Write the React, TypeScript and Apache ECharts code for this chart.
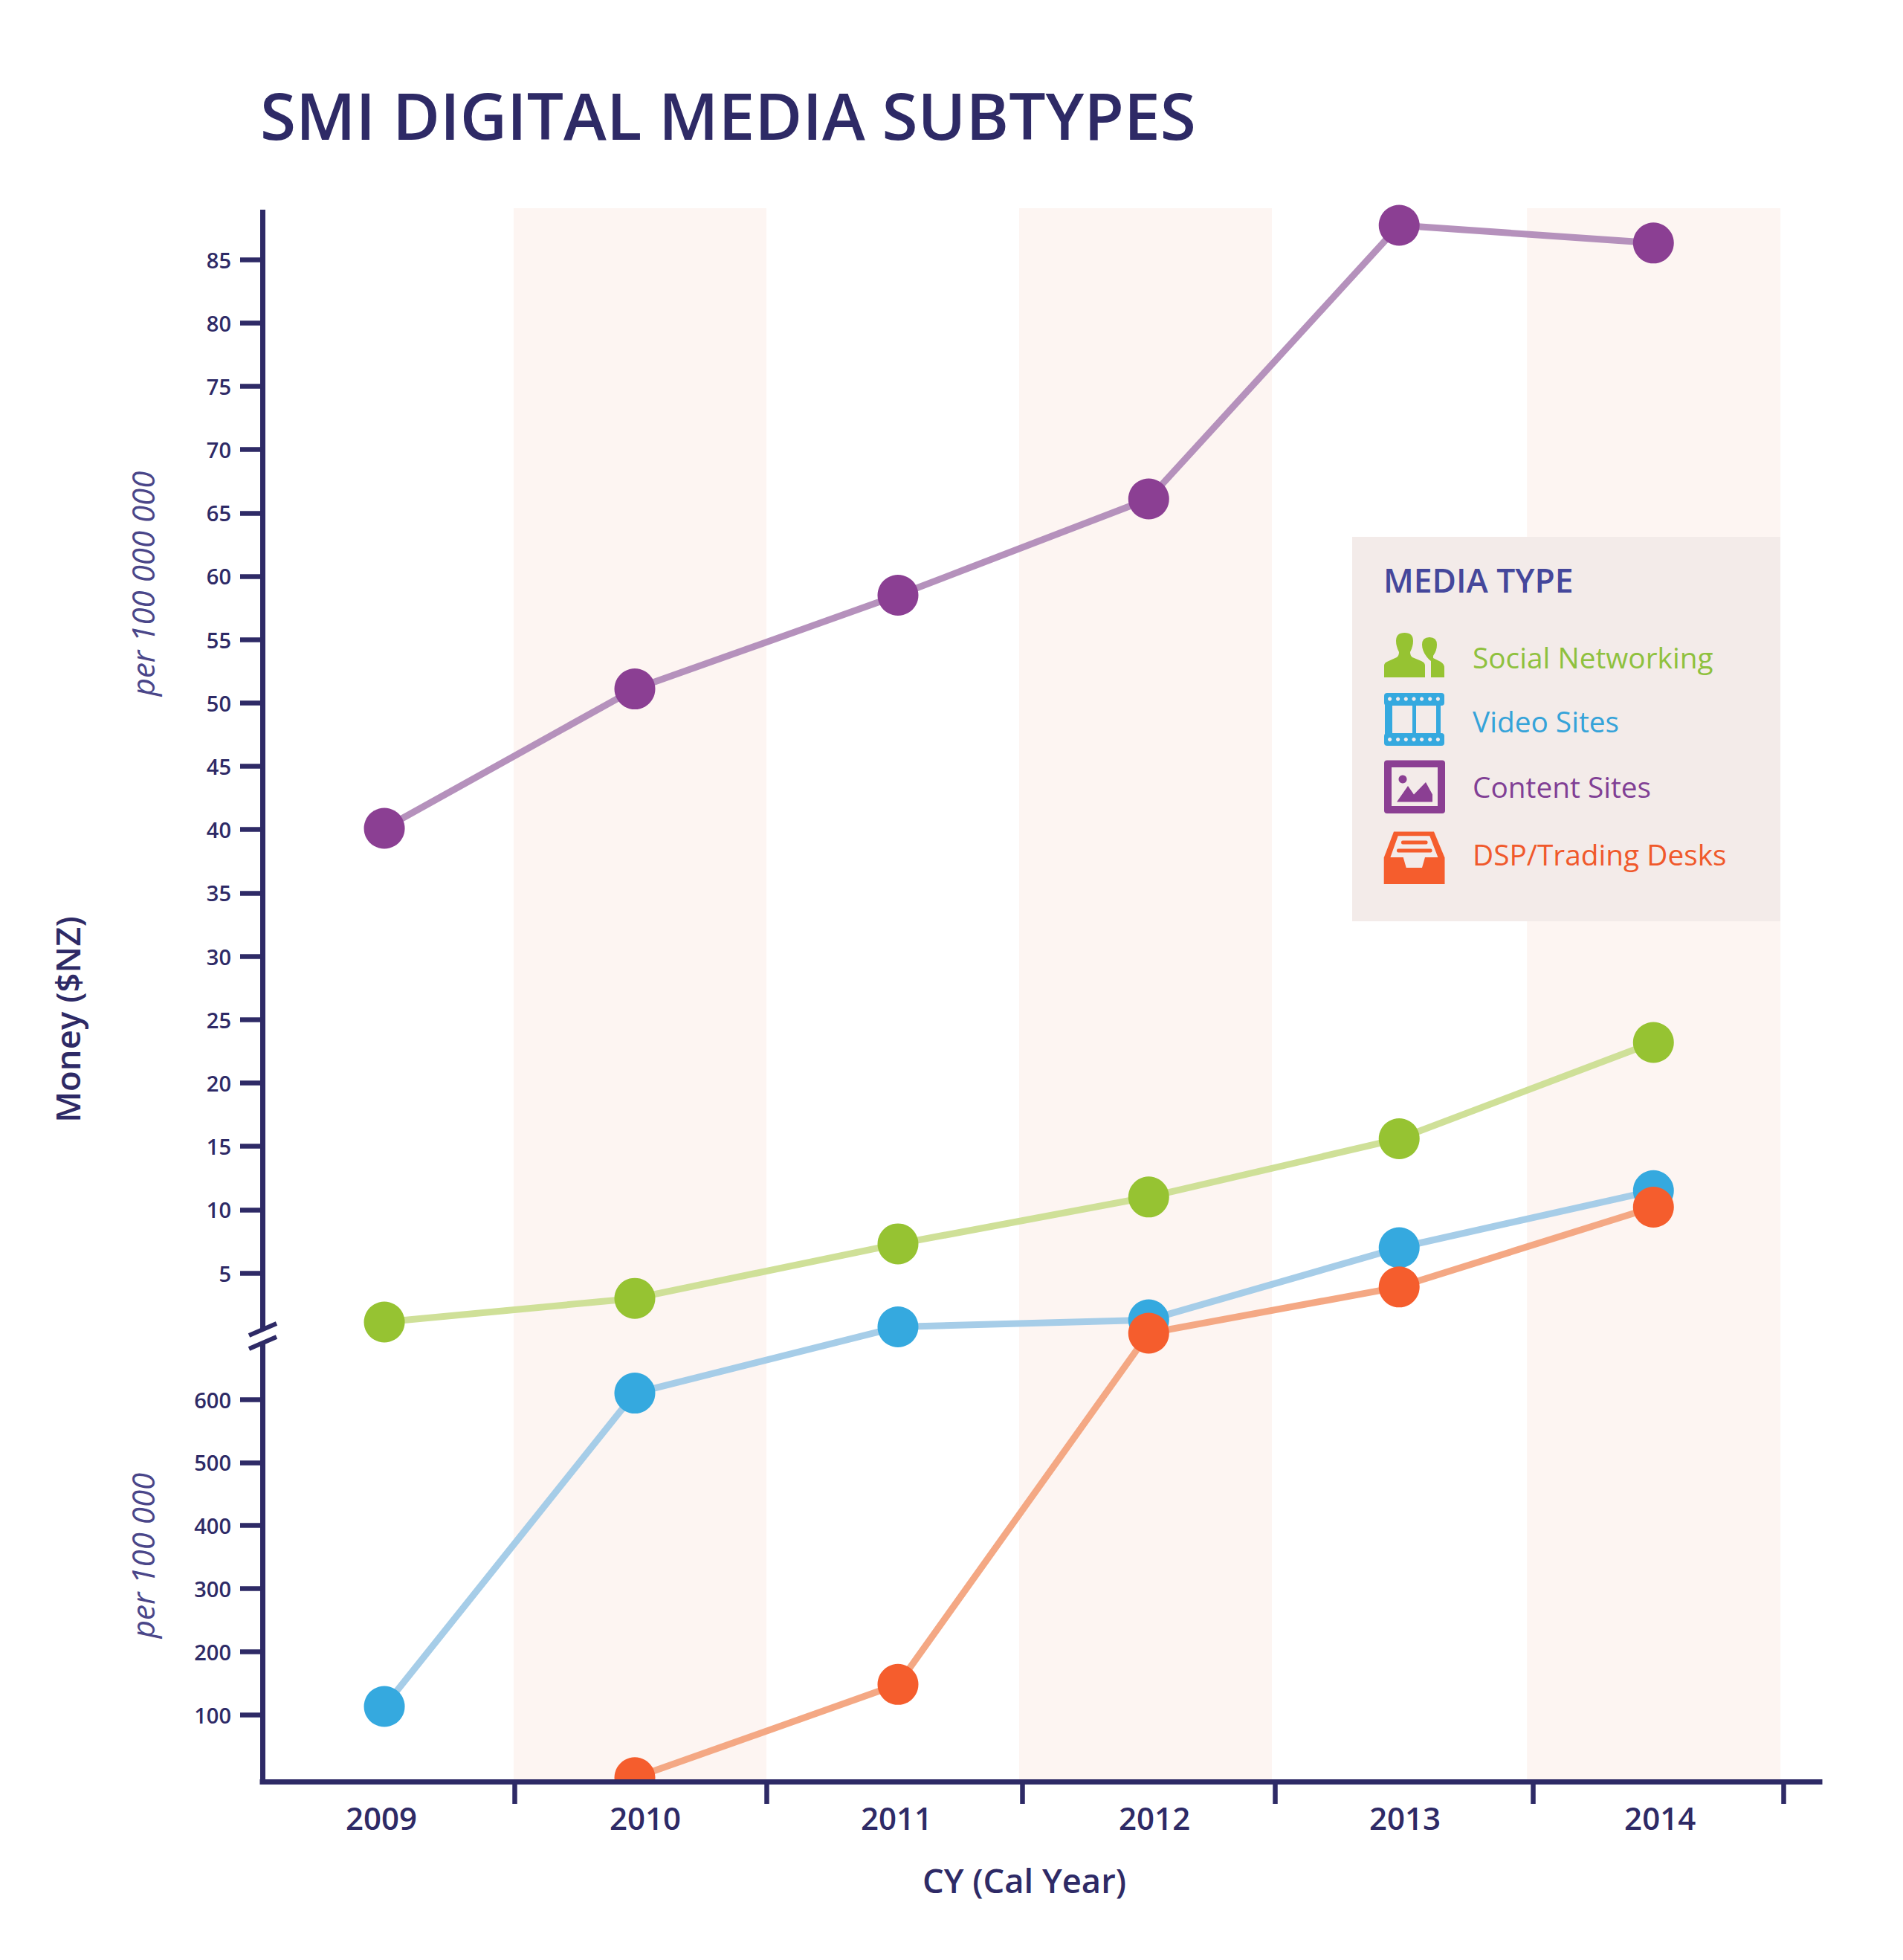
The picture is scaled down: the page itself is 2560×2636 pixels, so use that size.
import React, { useEffect, useRef } from "react";
import * as echarts from "echarts";

const FONT = "'Open Sans', 'Noto Sans', sans-serif";
const INK = "#2e2a66";

// Horizontal positions, in fractional years
const pointYears = [2008.978, 2009.966, 2011.004, 2011.993, 2012.981, 2013.984];
const labelYears = [2008.966, 2010.007, 2010.998, 2012.016, 2013.004, 2014.01];
const tickYears = [2009.491, 2010.485, 2011.494, 2012.491, 2013.508, 2014.497];
const bandYears: [number, number][] = [
  [2009.488, 2010.485],
  [2011.482, 2012.479],
  [2013.485, 2014.485],
];

// Tick labels for the two parts of the broken axis
const upperTicks = [5, 10, 15, 20, 25, 30, 35, 40, 45, 50, 55, 60, 65, 70, 75, 80, 85]; // per 100 000 000
const lowerTicks = [100, 200, 300, 400, 500, 600]; // per 100 000

// Series values in NZ$ millions
const socialNetworking = [113, 300, 730, 1100, 1560, 2320];
const videoSites = [11.3, 61, 71.5, 130, 700, 1150];
const contentSites = [4010, 5110, 5850, 6610, 8770, 8630];
const dspTradingDesks: (number | null)[] = [null, 0, 14.8, 70.5, 390, 1020];

const LOWER_SCALE = 0.04977;
const LOWER_600 = -4.976;
const lowerToAxis = (v: number) => LOWER_600 + (v - 600) * LOWER_SCALE;
const axisToLower = (p: number) => 600 + (p - LOWER_600) / LOWER_SCALE;
const toAxis = (m: number) => (m < 100 ? lowerToAxis(m * 10) : m / 100);

const pairs = (values: (number | null)[]) =>
  values
    .map((v, i) => (v == null ? null : [pointYears[i], toAxis(v)]))
    .filter((d) => d != null);

const lineSeries = (name: string, values: (number | null)[], color: string, line: string) => ({
  name,
  type: "line",
  data: pairs(values),
  symbol: "circle",
  symbolSize: 55,
  clip: false,
  itemStyle: { color },
  lineStyle: { color: line, width: 9 },
  emphasis: { disabled: true },
  z: 3,
});

const PEOPLE_BIG =
  "M0 60 L0 44 Q0 40 6 38 L17 33 Q20 31 20 26 Q16 18 16 11 Q16 0 27.5 0 Q39 0 39 11 Q39 18 35 26 Q35 31 38 33 L50 38 Q55 40 55 44 L55 60 Z";
const PEOPLE_SMALL =
  "M63 60 L63 38 Q60 36 57 32 Q51 24 51 16 Q51 6 61 6 Q71 6 71 16 Q71 24 66 31 L66 34 L76 39 Q81 42 81 47 L81 60 Z";
echarts.graphic.registerShape("peopleBig", echarts.graphic.extendPath(PEOPLE_BIG, {}) as any);
echarts.graphic.registerShape("peopleSmall", echarts.graphic.extendPath(PEOPLE_SMALL, {}) as any);

const LEGEND_BG = "#f3ebe9";
const GREEN = "#96c332";
const BLUE = "#35a9df";
const PURPLE = "#8b3f93";
const ORANGE = "#f55d2d";

const legendEntries = [
  { text: "Social Networking", color: "#8fc13e", y: 884 },
  { text: "Video Sites", color: "#35a3d9", y: 970 },
  { text: "Content Sites", color: "#813f95", y: 1058 },
  { text: "DSP/Trading Desks", color: "#f0592b", y: 1149 },
];
const filmDots = [1869.6, 1880.6, 1891.3, 1902, 1912.6, 1923.7, 1934.4];

const textEl = (text: string, x: number, y: number, s: any, rotation = 0) => ({
  type: "text",
  x,
  y,
  rotation,
  z: 20,
  silent: true,
  style: { text, fontFamily: FONT, align: "center", verticalAlign: "middle", fill: INK, ...s },
});
const rect = (x: number, y: number, width: number, height: number, fill: string, r = 0, z = 20) => ({
  type: "rect",
  z,
  silent: true,
  shape: { x, y, width, height, r },
  style: { fill },
});
const poly = (points: number[][], fill: string) => ({
  type: "polygon",
  z: 20,
  silent: true,
  shape: { points },
  style: { fill },
});
const dot = (cx: number, cy: number, r: number, fill: string) => ({
  type: "circle",
  z: 20,
  silent: true,
  shape: { cx, cy, r },
  style: { fill },
});

const graphicElements: any[] = [
  // top of the y axis stops a little below the bands; the bottom of the half-hidden marker
  rect(340, 268, 30, 14, "#ffffff", 0, 20),
  rect(815, 2399, 78, 28, "#ffffff", 0, 5),
  // axis break
  rect(340, 1788, 28, 18, "#ffffff"),
  {
    type: "line", z: 20, silent: true,
    shape: { x1: 335, y1: 1796, x2: 372, y2: 1780 },
    style: { stroke: INK, lineWidth: 6 },
  },
  {
    type: "line", z: 20, silent: true,
    shape: { x1: 335, y1: 1814, x2: 372, y2: 1798 },
    style: { stroke: INK, lineWidth: 6 },
  },
  textEl("Money ($NZ)", 90, 1371, { fontSize: 45.5, fontWeight: 600 }, Math.PI / 2),
  textEl("per 100 000 000", 191, 785, { fontSize: 42, fontWeight: 400, fontStyle: "italic", fill: "#4a4689" }, Math.PI / 2),
  textEl("per 100 000", 191, 2092, { fontSize: 42, fontWeight: 400, fontStyle: "italic", fill: "#4a4689" }, Math.PI / 2),
  textEl("CY (Cal Year)", 1378, 2528, { fontSize: 45.3, fontWeight: 600 }),
  textEl("SMI DIGITAL MEDIA SUBTYPES", 350, 154, { fontSize: 87.4, fontWeight: 600, align: "left" }),
  // legend
  rect(1819, 722, 576, 517, LEGEND_BG),
  textEl("MEDIA TYPE", 1861, 780, { fontSize: 44.3, fontWeight: 600, fill: "#45479b", align: "left" }),
  ...legendEntries.map((e) =>
    textEl(e.text, 1981, e.y, { fontSize: 38.8, fontWeight: 400, fill: e.color, align: "left" })
  ),
  { type: "peopleBig", x: 1862, y: 851, z: 20, silent: true, style: { fill: GREEN } },
  { type: "peopleSmall", x: 1862, y: 851, z: 20, silent: true, style: { fill: GREEN } },
  // film icon
  rect(1862, 932, 81, 17, BLUE, 4),
  rect(1862, 986, 81, 17, BLUE, 4),
  rect(1863, 945, 10, 45, BLUE),
  rect(1900, 945, 5, 45, BLUE),
  rect(1932, 945, 6, 45, BLUE),
  ...filmDots.map((x) => dot(x, 940, 2.6, LEGEND_BG)),
  ...filmDots.map((x) => dot(x, 994.6, 2.6, LEGEND_BG)),
  // picture icon
  rect(1862, 1022.5, 82, 71.5, PURPLE, 4),
  rect(1872, 1032, 62, 52, LEGEND_BG),
  dot(1887, 1048, 5.5, PURPLE),
  poly([[1879, 1078.6], [1894, 1057], [1902, 1068.6], [1918, 1052], [1927, 1068.6], [1927, 1078.6]], PURPLE),
  // tray icon
  poly([[1875, 1118.6], [1929, 1118.6], [1943.5, 1153.6], [1943.5, 1189], [1861.7, 1189], [1861.7, 1153.6]], ORANGE),
  poly([[1880.7, 1124.3], [1923.3, 1124.3], [1934.4, 1153], [1917, 1153], [1913, 1167], [1891.7, 1167], [1887.7, 1153], [1870.4, 1153]], LEGEND_BG),
  rect(1885, 1130.5, 35.5, 5, ORANGE, 2),
  rect(1879, 1141.5, 47.5, 5, ORANGE, 2),
];

const axisStyle = { color: INK, width: 7, cap: "square" };

const option: any = {
  animation: false,
  backgroundColor: "#ffffff",
  grid: { left: 353, top: 280, width: 2095, height: 2116, containLabel: false },
  xAxis: {
    type: "value",
    min: 2008.497,
    max: 2014.64,
    z: 10,
    position: "bottom",
    axisLine: { onZero: false, lineStyle: axisStyle },
    axisTick: { show: true, length: 30, customValues: tickYears, lineStyle: { color: INK, width: 6.5 } },
    axisLabel: {
      customValues: labelYears,
      margin: 27,
      color: INK,
      fontFamily: FONT,
      fontSize: 42,
      fontWeight: 600,
      formatter: (v: number) => String(Math.round(v)),
    },
    splitLine: { show: false },
  },
  yAxis: {
    type: "value",
    min: -35.14,
    max: 89.05,
    z: 10,
    axisLine: { show: true, onZero: false, lineStyle: axisStyle },
    axisTick: {
      show: true,
      length: 30,
      customValues: [...upperTicks, ...lowerTicks.map(lowerToAxis)],
      lineStyle: { color: INK, width: 6.5 },
    },
    axisLabel: {
      customValues: [...upperTicks, ...lowerTicks.map(lowerToAxis)],
      margin: 42,
      color: INK,
      fontFamily: FONT,
      fontSize: 29,
      fontWeight: 600,
      formatter: (v: number) => String(v > 0 ? Math.round(v) : Math.round(axisToLower(v))),
    },
    splitLine: { show: false },
  },
  series: [
    {
      type: "line",
      name: "bands",
      data: [],
      silent: true,
      clip: false,
      z: 1,
      markArea: {
        silent: true,
        itemStyle: { color: "#fdf5f2" },
        data: bandYears.map(([a, b]) => [{ xAxis: a, yAxis: -35.14 }, { xAxis: b, yAxis: 89.1 }]),
      },
    },
    lineSeries("Social Networking", socialNetworking, GREEN, "#cfe098"),
    lineSeries("Video Sites", videoSites, BLUE, "#a6cde8"),
    lineSeries("Content Sites", contentSites, PURPLE, "#b591bc"),
    lineSeries("DSP/Trading Desks", dspTradingDesks, ORANGE, "#f4a884"),
  ],
  graphic: { elements: graphicElements },
};

export default function App() {
  const ref = useRef<HTMLDivElement>(null);
  useEffect(() => {
    const chart = echarts.init(ref.current!, null, { renderer: "svg" });
    chart.setOption(option);
    return () => chart.dispose();
  }, []);
  return <div ref={ref} style={{ position: "absolute", left: 0, top: 0, width: 2560, height: 2636 }} />;
}
